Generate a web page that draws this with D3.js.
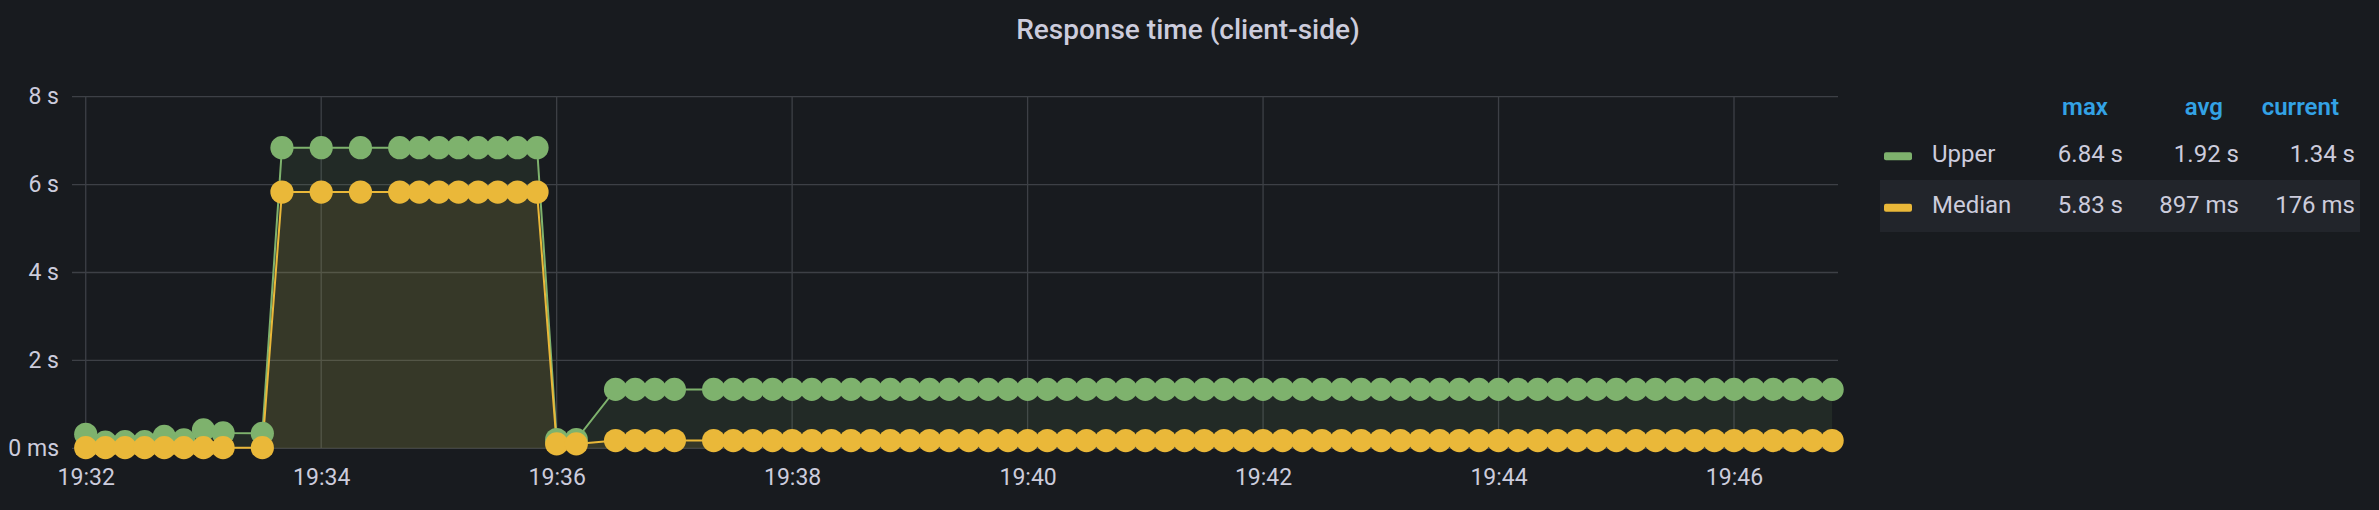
<!DOCTYPE html>
<html><head><meta charset="utf-8">
<script src="https://cdn.jsdelivr.net/npm/d3@7"></script>
<style>
html,body{margin:0;padding:0;background:#181b1f;}
svg{display:block;font-family:Roboto,"Noto Sans",sans-serif;}
</style></head><body>
<svg id="c" width="2379" height="510"></svg>
<script>
const title = "Response time (client-side)";
const times = [
"19:32:00","19:32:10","19:32:20","19:32:30","19:32:40","19:32:50","19:33:00","19:33:10",
"19:33:30","19:33:40","19:34:00","19:34:20",
"19:34:40","19:34:50","19:35:00","19:35:10","19:35:20","19:35:30","19:35:40","19:35:50",
"19:36:00","19:36:10","19:36:30","19:36:40","19:36:50","19:37:00",
"19:37:20","19:37:30","19:37:40","19:37:50",
"19:38:00","19:38:10","19:38:20","19:38:30","19:38:40","19:38:50",
"19:39:00","19:39:10","19:39:20","19:39:30","19:39:40","19:39:50",
"19:40:00","19:40:10","19:40:20","19:40:30","19:40:40","19:40:50",
"19:41:00","19:41:10","19:41:20","19:41:30","19:41:40","19:41:50",
"19:42:00","19:42:10","19:42:20","19:42:30","19:42:40","19:42:50",
"19:43:00","19:43:10","19:43:20","19:43:30","19:43:40","19:43:50",
"19:44:00","19:44:10","19:44:20","19:44:30","19:44:40","19:44:50",
"19:45:00","19:45:10","19:45:20","19:45:30","19:45:40","19:45:50",
"19:46:00","19:46:10","19:46:20","19:46:30","19:46:40","19:46:50"];
const upper = [
0.32,0.14,0.15,0.15,0.27,0.19,0.42,0.35,
0.34,6.84,6.84,6.84,
6.84,6.84,6.84,6.84,6.84,6.84,6.84,6.84,
0.20,0.20,1.34,1.34,1.34,1.34,
1.34,1.34,1.34,1.34,
1.34,1.34,1.34,1.34,1.34,1.34,
1.34,1.34,1.34,1.34,1.34,1.34,
1.34,1.34,1.34,1.34,1.34,1.34,
1.34,1.34,1.34,1.34,1.34,1.34,
1.34,1.34,1.34,1.34,1.34,1.34,
1.34,1.34,1.34,1.34,1.34,1.34,
1.34,1.34,1.34,1.34,1.34,1.34,
1.34,1.34,1.34,1.34,1.34,1.34,
1.34,1.34,1.34,1.34,1.34,1.34];
const median = [
0.015,0.015,0.015,0.015,0.015,0.015,0.015,0.015,
0.015,5.83,5.83,5.83,
5.83,5.83,5.83,5.83,5.83,5.83,5.83,5.83,
0.10,0.10,0.176,0.176,0.176,0.176,
0.176,0.176,0.176,0.176,
0.176,0.176,0.176,0.176,0.176,0.176,
0.176,0.176,0.176,0.176,0.176,0.176,
0.176,0.176,0.176,0.176,0.176,0.176,
0.176,0.176,0.176,0.176,0.176,0.176,
0.176,0.176,0.176,0.176,0.176,0.176,
0.176,0.176,0.176,0.176,0.176,0.176,
0.176,0.176,0.176,0.176,0.176,0.176,
0.176,0.176,0.176,0.176,0.176,0.176,
0.176,0.176,0.176,0.176,0.176,0.176];
const seriesNames = ["Upper","Median"];
const seriesColors = ["#7eb26d","#eab839"];
const yTicks = [0,2,4,6,8];
const legendCols = ["max","avg","current"];

const parse = d3.timeParse("%H:%M:%S");
const svg = d3.select("#c");
const textCol = "#ccccdc";
const gridCol = "#3d4046";

const x = d3.scaleTime().domain([parse("19:31:53"), parse("19:46:53")]).range([72, 1838]);
const y = d3.scaleLinear().domain([0, 8]).range([448.3, 96.7]);

// title
svg.append("text").attr("x", 1188).attr("y", 39).attr("text-anchor","middle")
  .attr("fill", textCol).style("font-size","28px").style("font-weight",500).text(title);

// grid
const xt = x.ticks(d3.timeMinute.every(2));
svg.append("g").selectAll("line").data(yTicks).join("line")
  .attr("x1",72).attr("x2",1838).attr("y1",d=>y(d)).attr("y2",d=>y(d))
  .attr("stroke",gridCol).attr("stroke-width",1.3);
svg.append("g").selectAll("line").data(xt).join("line")
  .attr("x1",d=>x(d)).attr("x2",d=>x(d)).attr("y1",y(8)).attr("y2",y(0))
  .attr("stroke",gridCol).attr("stroke-width",1.3);

// axes
const gx = svg.append("g").attr("transform",`translate(0,${y(0)})`)
  .call(d3.axisBottom(x).tickValues(xt).tickFormat(d3.timeFormat("%H:%M")).tickSize(0));
gx.select(".domain").remove();
gx.selectAll("text").attr("y", 37).attr("dy", 0).attr("fill", textCol)
  .style("font-size","23px").style("font-family","Roboto");

const gy = svg.append("g").attr("transform","translate(59,0)")
  .call(d3.axisLeft(y).tickValues(yTicks).tickFormat(v => v === 0 ? "0 ms" : v + " s").tickSize(0));
gy.select(".domain").remove();
gy.selectAll("text").attr("x", 0).attr("dy", 7).attr("fill", textCol)
  .style("font-size","23px").style("font-family","Roboto");

// series
const series = [upper, median].map((vals, i) => ({
  name: seriesNames[i], color: seriesColors[i],
  pts: vals.map((v, j) => ({t: parse(times[j]), v}))
}));

const area = d3.area().x(d=>x(d.t)).y0(y(0)).y1(d=>y(d.v));
const line = d3.line().x(d=>x(d.t)).y(d=>y(d.v));

series.forEach(s => {
  svg.append("path").datum(s.pts).attr("d", area).attr("fill", s.color).attr("fill-opacity", 0.1);
});
series.forEach(s => {
  svg.append("path").datum(s.pts).attr("d", line).attr("fill","none")
    .attr("stroke", s.color).attr("stroke-width", 2);
});
series.forEach(s => {
  svg.append("g").selectAll("circle").data(s.pts).join("circle")
    .attr("cx", d=>x(d.t)).attr("cy", d=>y(d.v)).attr("r", 11.6).attr("fill", s.color);
});

// legend
const fmt = v => v >= 1 ? v.toFixed(2) + " s" : Math.round(v * 1000) + " ms";
const lg = svg.append("g").style("font-size","24px");
const headRight = [2108, 2223, 2339];
const valRight = [2123, 2239, 2355];
lg.selectAll("text.h").data(legendCols).join("text").attr("class","h")
  .attr("x",(d,i)=>headRight[i]).attr("y",115).attr("text-anchor","end")
  .attr("fill","#33a2e5").style("font-weight",600).text(d=>d);
const rowBase = [161.7, 213.3];
lg.append("rect").attr("x",1880).attr("y",180).attr("width",480).attr("height",52).attr("fill","#22252b");
series.forEach((s, i) => {
  const vals = s.pts.map(d=>d.v);
  const stats = [d3.max(vals), d3.mean(vals), vals[vals.length-1]];
  lg.append("rect").attr("x",1884).attr("y",rowBase[i]-9.5).attr("width",28).attr("height",8)
    .attr("rx",2).attr("fill",s.color);
  lg.append("text").attr("x",1932).attr("y",rowBase[i]).attr("fill",textCol).text(s.name);
  stats.forEach((v, k) => {
    lg.append("text").attr("x",valRight[k]).attr("y",rowBase[i]).attr("text-anchor","end")
      .attr("fill",textCol).text(fmt(v));
  });
});
</script>
</body></html>
